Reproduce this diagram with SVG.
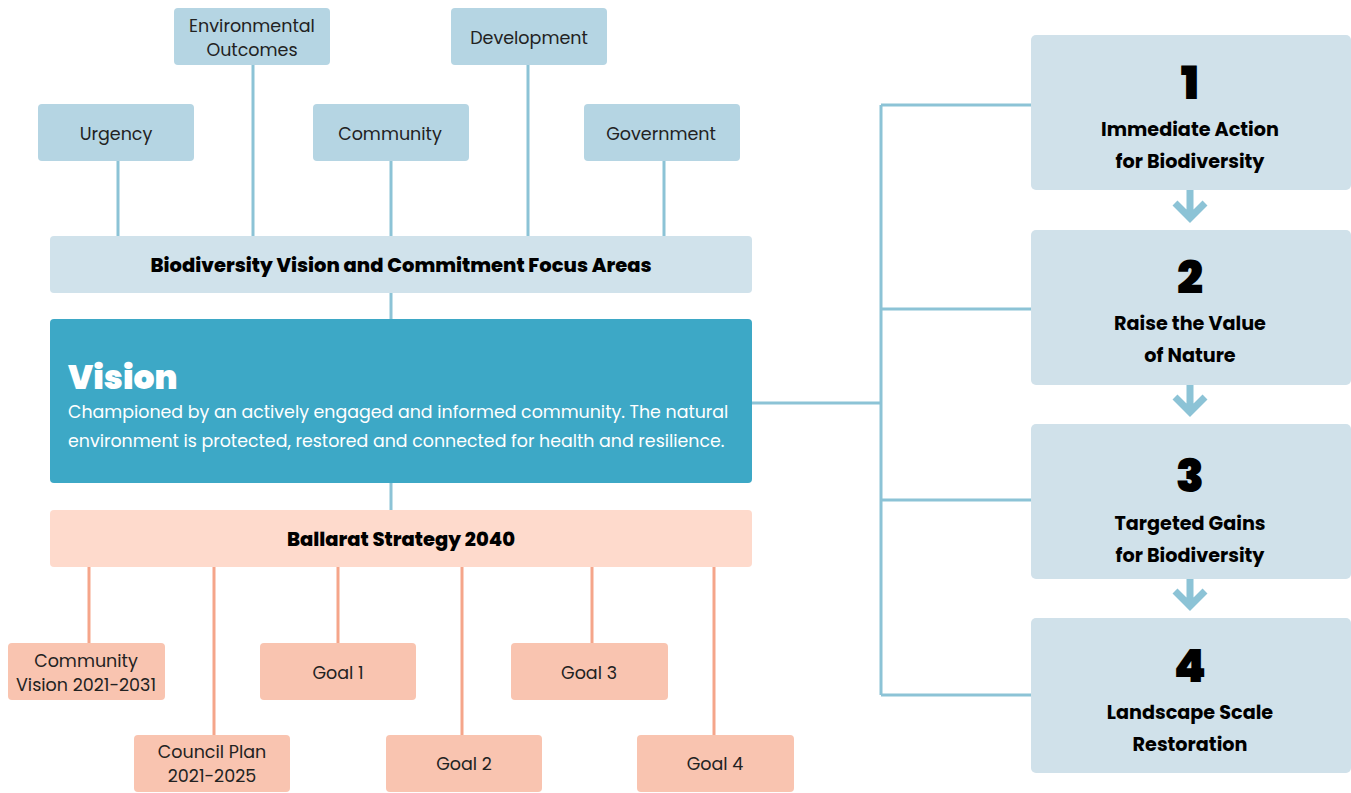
<svg xmlns="http://www.w3.org/2000/svg" width="1351" height="793" viewBox="0 0 1351 793">
<style>
text{font-family:"Poppins","Inter","Noto Sans","Liberation Sans",sans-serif}
.tb{fill:#b5d5e3}
.bar{fill:#d0e2eb}
.pk{fill:#f9c4b0}
.rb{fill:#d0e1ea}
.lbl{font-size:17.5px;fill:#222;text-anchor:middle}
.bold{font-size:19.5px;font-weight:800;fill:#000;text-anchor:middle}
.num{font-size:46px;font-weight:900;fill:#000;text-anchor:middle}
.step{font-size:19.2px;font-weight:700;fill:#000;text-anchor:middle}
.bl{stroke:#8cc3d6;stroke-width:3;fill:none}
.pl{stroke:#f5a58a;stroke-width:3;fill:none}
.arr{stroke:#8cc3d6;stroke-width:7;fill:none}
</style>
<rect width="1351" height="793" fill="#fff"/>
<g id="connectors">
<path class="bl" d="M118 160V236M253 65V236M391 160V236M528 65V236M664 160V236M391 293V319M391 483V510"/>
<path class="bl" d="M752 403H881M881 105V695M881 105H1031M881 309H1031M881 500H1031M881 695H1031"/>
<path class="pl" d="M89 567V643M214 567V735M338 567V643M462 567V735M592 567V643M714 567V735"/>
<g id="arrows">
<path class="arr" d="M1190 190V215M1175 203L1190 218L1205 203"/>
<path class="arr" d="M1190 384V409M1175 397L1190 412L1205 397"/>
<path class="arr" d="M1190 578V603M1175 591L1190 606L1205 591"/>
</g>
</g>
<g id="urgency"><rect class="tb" x="38" y="104" width="156" height="57" rx="4"/><text class="lbl" x="116" y="140">Urgency</text></g>
<g id="env-outcomes"><rect class="tb" x="174" y="8" width="156" height="57" rx="4"/><text class="lbl" x="252" y="32">Environmental</text><text class="lbl" x="252" y="56">Outcomes</text></g>
<g id="community"><rect class="tb" x="313" y="104" width="156" height="57" rx="4"/><text class="lbl" x="390" y="140">Community</text></g>
<g id="development"><rect class="tb" x="451" y="8" width="156" height="57" rx="4"/><text class="lbl" x="529" y="44">Development</text></g>
<g id="government"><rect class="tb" x="584" y="104" width="156" height="57" rx="4"/><text class="lbl" x="661" y="140">Government</text></g>
<g id="focus-areas"><rect class="bar" x="50" y="236" width="702" height="57" rx="4"/><text class="bold" x="401" y="272">Biodiversity Vision and Commitment Focus Areas</text></g>
<g id="vision"><rect x="50" y="319" width="702" height="164" rx="4" fill="#3da8c6"/>
<text x="68" y="389" font-size="33" font-weight="900" fill="#fff">Vision</text>
<text x="68" y="418" font-size="17.4" fill="#fff">Championed by an actively engaged and informed community. The natural</text>
<text x="68" y="447" font-size="17.4" fill="#fff">environment is protected, restored and connected for health and resilience.</text></g>
<g id="ballarat"><rect x="50" y="510" width="702" height="57" rx="4" fill="#fedacc"/><text class="bold" x="401" y="546">Ballarat Strategy 2040</text></g>
<g id="community-vision"><rect class="pk" x="8" y="643" width="157" height="57" rx="4"/><text class="lbl" x="86" y="667">Community</text><text class="lbl" x="86" y="691">Vision 2021-2031</text></g>
<g id="goal1"><rect class="pk" x="260" y="643" width="156" height="57" rx="4"/><text class="lbl" x="338" y="679">Goal 1</text></g>
<g id="goal3"><rect class="pk" x="511" y="643" width="157" height="57" rx="4"/><text class="lbl" x="589" y="679">Goal 3</text></g>
<g id="council-plan"><rect class="pk" x="134" y="735" width="156" height="57" rx="4"/><text class="lbl" x="212" y="758">Council Plan</text><text class="lbl" x="212" y="782">2021-2025</text></g>
<g id="goal2"><rect class="pk" x="386" y="735" width="156" height="57" rx="4"/><text class="lbl" x="464" y="770">Goal 2</text></g>
<g id="goal4"><rect class="pk" x="637" y="735" width="157" height="57" rx="4"/><text class="lbl" x="715" y="770">Goal 4</text></g>
<g id="step1"><rect class="rb" x="1031" y="35" width="320" height="155" rx="5"/><text class="num" x="1190" y="99">1</text><text class="step" x="1190" y="136">Immediate Action</text><text class="step" x="1190" y="168">for Biodiversity</text></g>
<g id="step2"><rect class="rb" x="1031" y="230" width="320" height="155" rx="5"/><text class="num" x="1190" y="293">2</text><text class="step" x="1190" y="330">Raise the Value</text><text class="step" x="1190" y="362">of Nature</text></g>
<g id="step3"><rect class="rb" x="1031" y="424" width="320" height="155" rx="5"/><text class="num" x="1190" y="492">3</text><text class="step" x="1190" y="530">Targeted Gains</text><text class="step" x="1190" y="562">for Biodiversity</text></g>
<g id="step4"><rect class="rb" x="1031" y="618" width="320" height="155" rx="5"/><text class="num" x="1190" y="682">4</text><text class="step" x="1190" y="719">Landscape Scale</text><text class="step" x="1190" y="751">Restoration</text></g>
</svg>
